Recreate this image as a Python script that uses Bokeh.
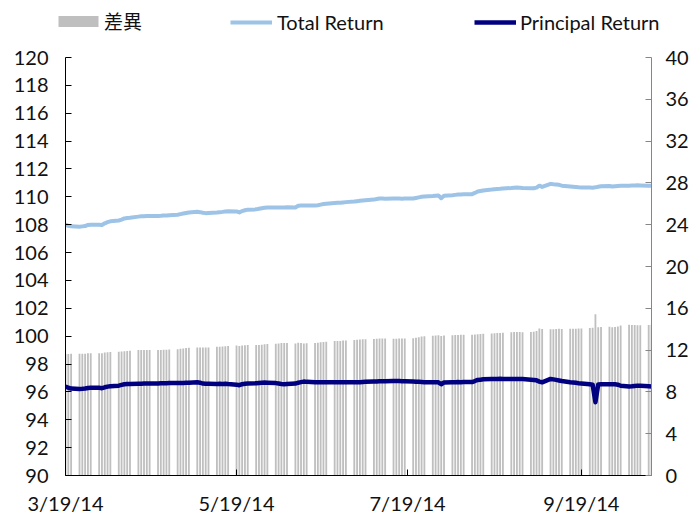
import pandas as pd
from bokeh.plotting import figure
from bokeh.layouts import column
from bokeh.models import (Range1d, LinearAxis, FixedTicker, DatetimeTickFormatter,
                          Legend, LegendItem, ColumnDataSource)
from bokeh.embed import file_html
from bokeh.resources import INLINE

# ---------------- data ----------------
start_date = "2014-03-19"
end_date = "2014-10-14"
x_tick_dates = ["2014-03-19", "2014-05-19", "2014-07-19", "2014-09-19"]
left_ticks = [90, 92, 94, 96, 98, 100, 102, 104, 106, 108, 110, 112, 114, 116, 118, 120]
right_ticks = [0, 4, 8, 12, 16, 20, 24, 28, 32, 36, 40]
series_names = ["差異", "Total Return", "Principal Return"]

total_return = [
    108.00, 107.92, 107.88,
    107.86, 107.88, 107.90, 107.98, 108.00,
    108.00, 107.98, 108.10, 108.18, 108.24,
    108.30, 108.36, 108.45, 108.48, 108.50,
    108.58, 108.60, 108.60, 108.62, 108.62,
    108.63, 108.64, 108.66, 108.66, 108.68,
    108.72, 108.76, 108.80, 108.84, 108.88,
    108.93, 108.90, 108.86, 108.83, 108.84,
    108.88, 108.90, 108.92, 108.95, 108.96,
    108.95, 108.88, 108.98, 109.04, 109.08,
    109.10, 109.14, 109.18, 109.22, 109.24,
    109.24, 109.23, 109.24, 109.24, 109.25,
    109.24, 109.36, 109.38, 109.38, 109.38,
    109.38, 109.40, 109.44, 109.48, 109.50,
    109.55, 109.57, 109.58, 109.60, 109.62,
    109.66, 109.69, 109.72, 109.74, 109.76,
    109.80, 109.84, 109.88, 109.88, 109.87,
    109.88, 109.88, 109.88, 109.87, 109.88,
    109.88, 109.92, 109.96, 110.00, 110.02,
    110.06, 110.08, 110.10, 109.90, 110.08,
    110.12, 110.14, 110.16, 110.17, 110.18,
    110.19, 110.28, 110.38, 110.42, 110.46,
    110.52, 110.55, 110.57, 110.58, 110.60,
    110.63, 110.65, 110.67, 110.66, 110.64,
    110.62, 110.62, 110.66, 110.80, 110.71,
    110.93, 110.90, 110.88, 110.86, 110.80,
    110.74, 110.72, 110.70, 110.68, 110.67,
    110.67, 110.66, 110.68, 110.72, 110.76,
    110.78, 110.74, 110.76, 110.78, 110.80,
    110.80, 110.81, 110.82, 110.83, 110.82,
    110.80, 110.80,
]

principal_return = [
    96.38, 96.30, 96.24,
    96.21, 96.22, 96.24, 96.28, 96.29,
    96.29, 96.27, 96.33, 96.38, 96.41,
    96.45, 96.50, 96.55, 96.56, 96.56,
    96.58, 96.59, 96.60, 96.60, 96.61,
    96.61, 96.62, 96.62, 96.62, 96.63,
    96.63, 96.64, 96.64, 96.65, 96.66,
    96.69, 96.66, 96.60, 96.58, 96.58,
    96.57, 96.58, 96.57, 96.58, 96.56,
    96.52, 96.48, 96.55, 96.58, 96.60,
    96.62, 96.64, 96.66, 96.67, 96.66,
    96.63, 96.60, 96.57, 96.55, 96.56,
    96.60, 96.66, 96.70, 96.74, 96.72,
    96.70, 96.69, 96.69, 96.70, 96.70,
    96.69, 96.69, 96.70, 96.69, 96.69,
    96.69, 96.70, 96.70, 96.71, 96.72,
    96.74, 96.75, 96.76, 96.77, 96.77,
    96.79, 96.79, 96.78, 96.77, 96.76,
    96.74, 96.73, 96.72, 96.71, 96.70,
    96.69, 96.69, 96.69, 96.55, 96.68,
    96.70, 96.70, 96.71, 96.70, 96.71,
    96.71, 96.78, 96.86, 96.88, 96.90,
    96.92, 96.93, 96.93, 96.94, 96.93,
    96.93, 96.92, 96.93, 96.93, 96.92,
    96.88, 96.86, 96.83, 96.74, 96.69,
    96.93, 96.90, 96.86, 96.82, 96.78,
    96.70, 96.68, 96.65, 96.62, 96.60,
    96.55, 96.52, 95.26, 96.54, 96.55,
    96.55, 96.55, 96.55, 96.52, 96.44,
    96.38, 96.40, 96.43, 96.45, 96.44,
    96.40, 96.38,
]

# trading days of the series
dates = pd.bdate_range(start_date, end_date)
# 差異 = Total Return - Principal Return
difference = [round(t - p, 2) for t, p in zip(total_return, principal_return)]

src = ColumnDataSource(dict(date=list(dates), total=total_return,
                            principal=principal_return, diff=difference))

FONT = "Lato"
CJK = "Noto Sans CJK TC"
TXT = "#111111"
BAR_C = "#BFBFBF"
TOT_C = "#9DC3E6"
PRI_C = "#000080"
day_ms = 86400000


def draw_series(fig):
    b = fig.vbar(x="date", top="diff", bottom=0, width=0.65 * day_ms,
                 fill_color=BAR_C, line_color=None, y_range_name="right", source=src)
    t = fig.line("date", "total", line_color=TOT_C, line_width=4,
                 line_join="round", source=src)
    q = fig.line("date", "principal", line_color=PRI_C, line_width=4.5,
                 line_join="round", source=src)
    return b, t, q


# ---------------- main chart ----------------
p = figure(width=691, height=472, x_axis_type="datetime",
           output_backend="svg", toolbar_location=None,
           x_range=Range1d(pd.Timestamp(start_date), pd.Timestamp(end_date)),
           y_range=Range1d(90, 120),
           min_border_left=65, min_border_right=38,
           min_border_top=12, min_border_bottom=40)
p.extra_y_ranges = {"right": Range1d(0, 40)}
p.outline_line_color = None
p.xgrid.visible = False
p.ygrid.visible = False
draw_series(p)

ly = p.yaxis[0]
ly.ticker = FixedTicker(ticks=left_ticks)
ly.axis_line_color = "#000000"

ry = LinearAxis(y_range_name="right", ticker=FixedTicker(ticks=right_ticks))
p.add_layout(ry, "right")
ry.axis_line_color = "#868686"

xa = p.xaxis[0]
xa.ticker = FixedTicker(ticks=[pd.Timestamp(d).value / 1e6 for d in x_tick_dates])
fmt = "%-m/%d/%y"
xa.formatter = DatetimeTickFormatter(milliseconds=fmt, seconds=fmt, minsec=fmt, minutes=fmt,
                                     hourmin=fmt, hours=fmt, days=fmt, months=fmt, years=fmt)
xa.axis_line_color = "#000000"

for ax in (ly, ry, xa):
    ax.major_tick_in = 6
    ax.major_tick_out = 0
    ax.minor_tick_in = 0
    ax.minor_tick_out = 0
    ax.major_tick_line_color = ax.axis_line_color
    ax.major_label_text_font = FONT
    ax.major_label_text_font_size = "20px"
    ax.major_label_text_color = TXT
ly.major_label_standoff = 17
ry.major_label_standoff = 14
xa.major_label_standoff = 15

# ---------------- legend strip (series drawn out of view, only keys show) ----------------
lf = figure(width=691, height=45, x_axis_type="datetime",
            output_backend="svg", toolbar_location=None,
            x_axis_location=None, y_axis_location=None,
            x_range=p.x_range, y_range=Range1d(1000, 1001),
            min_border_left=0, min_border_right=0, min_border_top=0, min_border_bottom=0)
lf.extra_y_ranges = {"right": Range1d(1000, 1001)}
lf.outline_line_color = None
lf.xgrid.visible = False
lf.ygrid.visible = False
lg_bar, lg_tot, lg_pri = draw_series(lf)

offset = 0
try:
    lf.frame_align = False
    p.frame_align = False
except AttributeError:
    offset = 65


def add_legend(label, rend, x, gw, standoff, font, size):
    lg = Legend(items=[LegendItem(label=label, renderers=[rend])],
                location=(x - offset, 11), orientation="horizontal",
                glyph_width=gw, glyph_height=14, label_standoff=standoff,
                padding=0, margin=0, spacing=0,
                background_fill_alpha=0, border_line_alpha=0,
                label_text_font=font, label_text_font_size=size,
                label_text_color=TXT)
    lf.add_layout(lg)


add_legend(series_names[0], lg_bar, 53, 50, 1, CJK, "19px")
add_legend(series_names[1], lg_tot, 230, 42, 5, FONT, "20px")
add_legend(series_names[2], lg_pri, 474, 42, 4, FONT, "20px")

layout = column(lf, p, spacing=0)
open("out.html", "w").write(file_html(layout, INLINE))
